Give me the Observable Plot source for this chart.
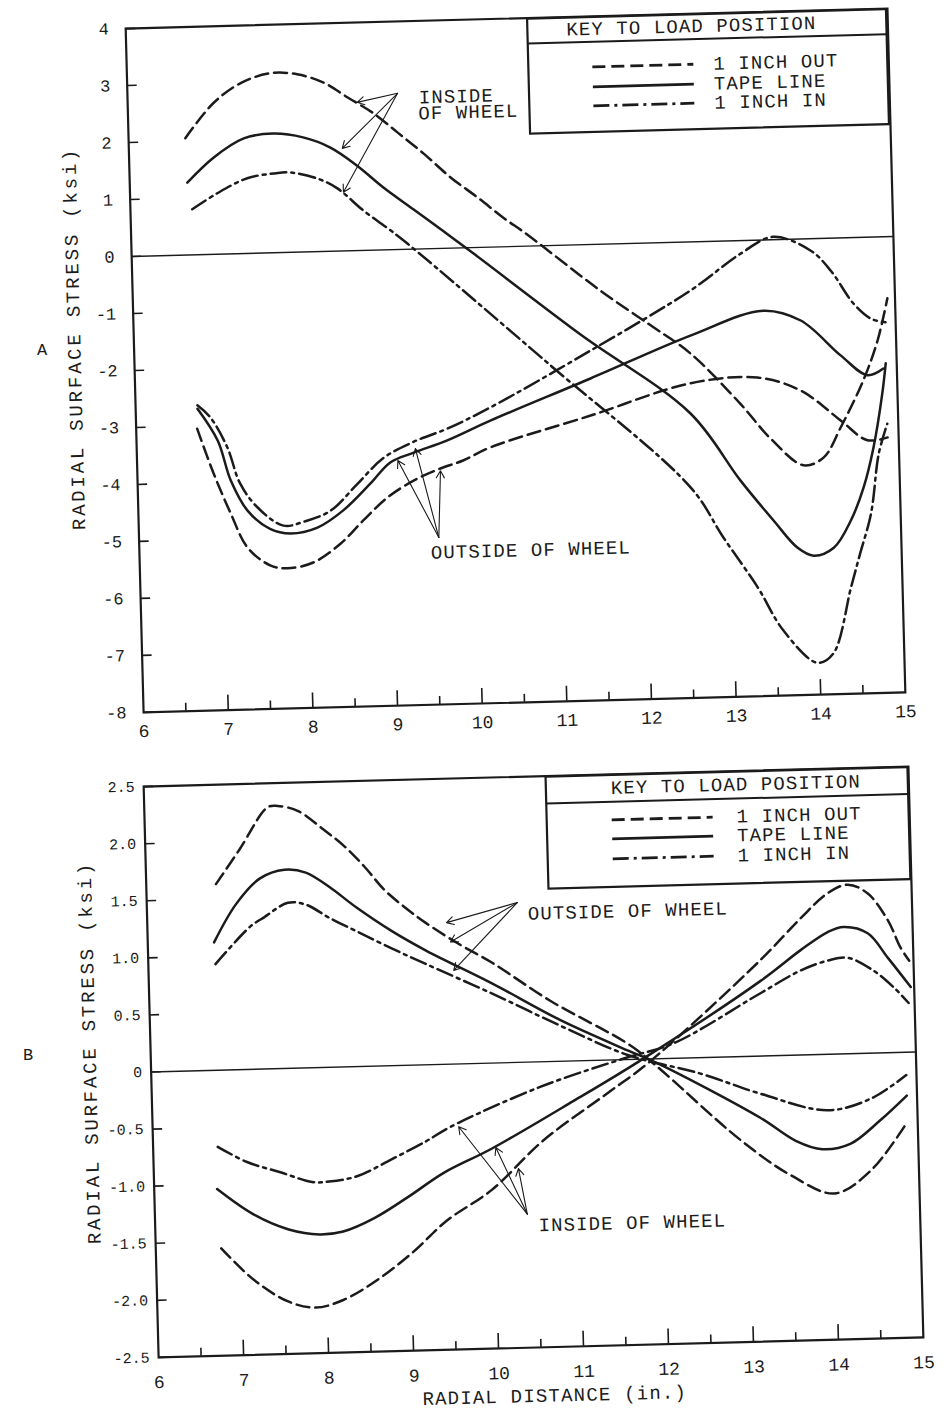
<!DOCTYPE html>
<html>
<head>
<meta charset="utf-8">
<script src="https://cdn.jsdelivr.net/npm/d3@7"></script>
<script src="https://cdn.jsdelivr.net/npm/@observablehq/plot@0.6"></script>
<style>
  html, body { margin: 0; padding: 0; background: #fff; }
  #page { position: relative; width: 943px; height: 1414px; overflow: hidden; background: #fff;
          font-family: "Liberation Mono", "DejaVu Sans Mono", monospace; color: #1b1b1b; }
  .panel { position: absolute; left: 0; width: 943px; }
  .panel svg { display: block; }
  .abs { position: absolute; white-space: nowrap; }
  .ytitle { font-size: 19px; letter-spacing: 2.8px; transform: translate(-50%, -50%) rotate(-90deg); }
  .xtitle { font-size: 19px; letter-spacing: 1.2px; transform: translate(-50%, -50%); }
  .plabel { font-size: 17px; transform: translate(-50%, -50%); }
  .legend { position: absolute; }
</style>
</head>
<body>
<div id="page"></div>
<script>
const FONT = '"Liberation Mono", "DejaVu Sans Mono", monospace';
const INK = "#1b1b1b";

// ---------- axis ticks / labels ----------
const xTicks = [6, 7, 8, 9, 10, 11, 12, 13, 14, 15];
const xMajor = [7, 8, 9, 10, 11, 12, 13, 14];
const xMinor = [6.5, 7.5, 8.5, 9.5, 10.5, 11.5, 12.5, 13.5, 14.5];
const aYTicks = [4, 3, 2, 1, 0, -1, -2, -3, -4, -5, -6, -7, -8];
const aYLabels = ["4", "3", "2", "1", "0", "-1", "-2", "-3", "-4", "-5", "-6", "-7", "-8"];
const bYTicks = [2.5, 2, 1.5, 1, 0.5, 0, -0.5, -1, -1.5, -2, -2.5];
const bYLabels = ["2.5", "2.0", "1.5", "1.0", "0.5", "0", "-0.5", "-1.0", "-1.5", "-2.0", "-2.5"];

const yTitle = "RADIAL SURFACE STRESS (ksi)";
const xTitle = "RADIAL DISTANCE (in.)";
const legendTitle = "KEY TO LOAD POSITION";
const legendKeys = ["out", "tape", "in"];
const legendNames = ["1 INCH OUT", "TAPE LINE", "1 INCH IN"];

// ---------- Panel A data [radial distance (in.), stress (ksi)] ----------
const A_inside_out = [[6.67,2.05],[7.01,2.65],[7.34,2.99],[7.69,3.15],[8.01,3.12],[8.32,2.96],[8.60,2.69],[8.90,2.40],[9.18,2.05],[9.48,1.67],[9.79,1.24],[10.10,0.88],[10.40,0.51],[10.68,0.20],[11.52,-0.81],[12.11,-1.45],[12.57,-1.96],[13.14,-2.86],[13.49,-3.49],[13.87,-3.97],[14.11,-3.84],[14.32,-3.32],[14.60,-2.51],[14.78,-1.82],[14.91,-1.08]];
const A_inside_tape = [[6.68,1.27],[7.00,1.70],[7.36,2.02],[7.71,2.09],[8.06,2.01],[8.38,1.82],[8.69,1.49],[8.99,1.10],[9.34,0.70],[9.69,0.30],[10.05,-0.12],[11.28,-1.58],[12.55,-3.01],[13.12,-4.21],[13.50,-4.93],[13.77,-5.41],[13.96,-5.56],[14.20,-5.43],[14.41,-4.96],[14.57,-4.39],[14.70,-3.69],[14.82,-2.75],[14.87,-2.22]];
const A_inside_in = [[6.73,0.80],[7.03,1.07],[7.39,1.32],[7.70,1.39],[7.90,1.40],[8.22,1.28],[8.45,1.10],[8.75,0.70],[9.03,0.38],[9.26,0.10],[10.91,-2.10],[12.53,-4.31],[12.90,-5.20],[13.29,-6.09],[13.58,-6.86],[13.97,-7.44],[14.16,-7.29],[14.39,-6.14],[14.51,-5.54],[14.65,-4.85],[14.76,-3.80],[14.87,-3.28]];
const A_outside_out = [[6.72,-3.05],[6.90,-3.84],[7.09,-4.55],[7.28,-5.16],[7.54,-5.48],[7.74,-5.54],[8.05,-5.45],[8.38,-5.13],[8.65,-4.74],[8.95,-4.34],[9.26,-4.06],[9.58,-3.86],[9.85,-3.73],[10.18,-3.51],[11.37,-3.00],[12.56,-2.48],[13.35,-2.41],[13.86,-2.66],[14.32,-3.20],[14.63,-3.56],[14.87,-3.52]];
const A_outside_tape = [[6.73,-2.70],[6.96,-3.27],[7.10,-3.97],[7.29,-4.51],[7.55,-4.84],[7.79,-4.93],[8.11,-4.84],[8.42,-4.55],[8.75,-4.09],[8.99,-3.73],[9.27,-3.57],[9.67,-3.37],[10.19,-3.04],[11.38,-2.35],[12.58,-1.64],[13.44,-1.24],[13.88,-1.43],[14.34,-2.06],[14.65,-2.42],[14.84,-2.31]];
const A_outside_in = [[6.73,-2.64],[6.88,-2.86],[7.07,-3.39],[7.21,-4.03],[7.41,-4.46],[7.71,-4.79],[7.95,-4.73],[8.27,-4.55],[8.59,-4.10],[8.91,-3.65],[9.27,-3.38],[9.68,-3.16],[10.19,-2.81],[11.39,-1.86],[12.59,-0.85],[13.19,-0.23],[13.58,0.05],[14.02,-0.21],[14.25,-0.57],[14.51,-1.16],[14.71,-1.43],[14.88,-1.50]];

// annotation arrows [x1, y1, x2, y2] and labels [x, y, text]
const A_arrows = [[9.19,2.74,8.71,2.60],[9.19,2.74,8.52,1.80],[9.19,2.74,8.52,1.03],
                  [9.54,-5.07,9.08,-3.70],[9.54,-5.07,9.29,-3.50],[9.54,-5.07,9.58,-3.90]];
const A_notes = [[9.44,2.66,"INSIDE"],[9.43,2.38,"OF WHEEL"],[9.44,-5.33,"OUTSIDE OF WHEEL"]];

// ---------- Panel B data ----------
const B_outside_out = [[6.82,1.63],[7.11,1.93],[7.45,2.29],[7.57,2.30],[7.81,2.25],[8.09,2.09],[8.33,1.94],[8.57,1.75],[8.80,1.54],[9.04,1.38],[9.28,1.24],[9.68,1.04],[10.04,0.88],[10.72,0.53],[11.61,0.14],[11.91,-0.04],[12.91,-0.73],[13.49,-1.05],[14.00,-1.22],[14.43,-1.03],[14.87,-0.62]];
const B_outside_tape = [[6.78,1.12],[7.05,1.45],[7.34,1.67],[7.63,1.74],[7.88,1.71],[8.15,1.58],[8.47,1.39],[8.87,1.18],[9.27,1.00],[10.03,0.70],[10.83,0.36],[11.61,0.08],[11.96,-0.04],[13.15,-0.54],[13.56,-0.75],[13.87,-0.83],[14.20,-0.79],[14.56,-0.59],[14.88,-0.38]];
const B_outside_in = [[6.79,0.93],[7.21,1.25],[7.38,1.33],[7.66,1.45],[7.87,1.43],[8.14,1.31],[8.47,1.18],[8.86,1.03],[9.27,0.88],[10.03,0.61],[10.83,0.31],[11.61,0.04],[12.46,-0.14],[13.16,-0.33],[13.94,-0.49],[14.45,-0.40],[14.88,-0.20]];
const B_inside_out = [[6.77,-1.56],[7.14,-1.84],[7.54,-2.04],[7.86,-2.10],[8.19,-2.04],[8.60,-1.87],[9.02,-1.64],[9.43,-1.37],[9.97,-1.11],[10.59,-0.69],[11.36,-0.29],[11.84,-0.04],[13.20,0.84],[13.69,1.20],[14.01,1.41],[14.25,1.48],[14.48,1.40],[14.71,1.16],[14.85,0.92],[14.95,0.80]];
const B_inside_tape = [[6.74,-1.04],[7.16,-1.27],[7.57,-1.41],[7.93,-1.46],[8.21,-1.44],[8.58,-1.33],[8.99,-1.15],[9.41,-0.95],[9.98,-0.75],[10.96,-0.35],[11.76,-0.01],[13.20,0.66],[13.68,0.92],[14.00,1.07],[14.19,1.11],[14.47,1.05],[14.70,0.83],[14.96,0.57]];
const B_inside_in = [[6.76,-0.67],[7.10,-0.81],[7.50,-0.91],[7.86,-1.00],[8.06,-1.00],[8.39,-0.96],[8.80,-0.82],[9.21,-0.67],[9.50,-0.55],[10.57,-0.22],[11.61,0.02],[12.15,0.13],[13.19,0.55],[13.67,0.74],[13.99,0.82],[14.23,0.84],[14.53,0.72],[14.76,0.57],[14.93,0.43]];

const B_arrows = [[10.36,1.40,9.52,1.24],[10.36,1.40,9.56,1.07],[10.36,1.40,9.59,0.82],
                  [10.38,-1.33,9.60,-0.55],[10.38,-1.33,10.03,-0.74],[10.38,-1.33,10.29,-0.93]];
const B_notes = [[10.48,1.30,"OUTSIDE OF WHEEL"],[10.51,-1.43,"INSIDE OF WHEEL"]];

// ---------- styles ----------
const DASH = {out: "13,6", tape: null, in: "16,5,3,5"};

function lineMark(data, key) {
  const o = {x: d => d[0], y: d => d[1], curve: "catmull-rom", stroke: INK, strokeWidth: 2.5};
  if (DASH[key]) o.strokeDasharray = DASH[key];
  return Plot.line(data, o);
}

function buildPlot(p) {
  const svg = Plot.plot({
    width: 943, height: p.height,
    marginTop: p.mt, marginRight: p.mr, marginBottom: p.mb, marginLeft: p.ml,
    x: {domain: [6, 15]},
    y: {domain: p.yDomain},
    style: {fontFamily: FONT, fontSize: "18px", color: INK, background: "transparent", overflow: "visible"},
    marks: [
      Plot.ruleY([0], {stroke: INK, strokeWidth: 1.4}),
      ...p.curves.map(c => lineMark(c[0], c[1])),
      Plot.arrow(p.arrows, {x1: d => d[0], y1: d => d[1], x2: d => d[2], y2: d => d[3],
                            stroke: INK, strokeWidth: 1.1, headLength: 11}),
      Plot.text(p.notes, {x: d => d[0], y: d => d[1], text: d => d[2], textAnchor: "start",
                          fontSize: 19, fill: INK}),
      Plot.frame({stroke: INK, strokeWidth: 2.2}),
      Plot.axisY({ticks: p.yTicks, tickSize: 10, dx: 10, tickFormat: () => "", stroke: INK, strokeWidth: 1.6, label: null}),
      Plot.axisY({ticks: p.yTicks, tickSize: 0, tickPadding: p.yPad, fontSize: p.yFont,
                  tickFormat: d => p.yLabels[p.yTicks.indexOf(d)], label: null}),
      Plot.axisX({ticks: xMajor, tickSize: 15, dy: -15, tickFormat: () => "", stroke: INK, strokeWidth: 1.6, label: null}),
      Plot.axisX({ticks: xMinor, tickSize: 8, dy: -8, tickFormat: () => "", stroke: INK, strokeWidth: 1.6, label: null}),
      Plot.axisX({ticks: xTicks, tickSize: 0, tickPadding: p.xPad, tickFormat: d => String(d), label: null})
    ]
  });
  d3.select(svg).selectAll('g[aria-label="text"] text').attr("letter-spacing", "1.1px");
  return svg;
}

function legendSVG(L) {
  const s = d3.create("svg").attr("width", L.w).attr("height", L.h)
    .style("font-family", FONT).style("overflow", "visible");
  s.append("rect").attr("x", 1).attr("y", 1).attr("width", L.w - 2).attr("height", L.h - 2)
    .attr("fill", "#fff").attr("stroke", INK).attr("stroke-width", 2.2);
  s.append("line").attr("x1", 1).attr("x2", L.w - 1).attr("y1", L.sep).attr("y2", L.sep)
    .attr("stroke", INK).attr("stroke-width", 2);
  s.append("text").attr("x", L.titleX).attr("y", L.titleY).attr("text-anchor", "middle")
    .attr("dominant-baseline", "middle").attr("font-size", 19).attr("letter-spacing", "1.1px")
    .attr("fill", INK).text(legendTitle);
  legendKeys.forEach((k, i) => {
    const ln = s.append("line").attr("x1", L.sx0).attr("x2", L.sx1).attr("y1", L.rows[i]).attr("y2", L.rows[i])
      .attr("stroke", INK).attr("stroke-width", 2.8);
    if (DASH[k]) ln.attr("stroke-dasharray", DASH[k]);
    s.append("text").attr("x", L.tx).attr("y", L.rows[i] + 1).attr("dominant-baseline", "middle")
      .attr("font-size", 19).attr("letter-spacing", "1.1px").attr("fill", INK).text(legendNames[i]);
  });
  return s.node();
}

function makePanel(p) {
  const div = document.createElement("div");
  div.className = "panel";
  div.style.top = p.top + "px";
  div.style.height = p.height + "px";
  div.style.transformOrigin = p.origin;
  div.style.transform = "rotate(-1.5deg)";
  div.appendChild(buildPlot(p));
  const lg = document.createElement("div");
  lg.className = "legend";
  lg.style.left = p.legend.left + "px";
  lg.style.top = p.legend.top + "px";
  lg.appendChild(legendSVG(p.legend));
  div.appendChild(lg);
  const yt = document.createElement("div");
  yt.className = "abs ytitle";
  yt.style.left = p.yTitlePos[0] + "px";
  yt.style.top = p.yTitlePos[1] + "px";
  yt.textContent = yTitle;
  div.appendChild(yt);
  if (p.xTitlePos) {
    const xt = document.createElement("div");
    xt.className = "abs xtitle";
    xt.style.left = p.xTitlePos[0] + "px";
    xt.style.top = p.xTitlePos[1] + "px";
    xt.textContent = xTitle;
    div.appendChild(xt);
  }
  return div;
}

const page = document.getElementById("page");

page.appendChild(makePanel({
  top: 0, height: 740, mt: 18, mr: 47, mb: 38, ml: 134,
  origin: "515px 360px",
  yDomain: [-8, 4], yTicks: aYTicks, yLabels: aYLabels, yPad: 17, yFont: 17, xPad: 12,
  curves: [[A_inside_out, "out"], [A_inside_tape, "tape"], [A_inside_in, "in"],
           [A_outside_out, "out"], [A_outside_tape, "tape"], [A_outside_in, "in"]],
  arrows: A_arrows, notes: A_notes,
  legend: {left: 535, top: 18, w: 361, h: 117, sep: 26, titleX: 165, titleY: 14,
           rows: [51, 71, 90], sx0: 65, sx1: 166, tx: 186},
  yTitlePos: [75.6, 326.5]
}));

page.appendChild(makePanel({
  top: 740, height: 674, mt: 36, mr: 27.5, mb: 67, ml: 150.5,
  origin: "533px 321.5px",
  yDomain: [-2.5, 2.5], yTicks: bYTicks, yLabels: bYLabels, yPad: 9, yFont: 15, xPad: 18,
  curves: [[B_outside_out, "out"], [B_outside_tape, "tape"], [B_outside_in, "in"],
           [B_inside_out, "out"], [B_inside_tape, "tape"], [B_inside_in, "in"]],
  arrows: B_arrows, notes: B_notes,
  legend: {left: 552, top: 36, w: 364, h: 114, sep: 28, titleX: 191, titleY: 15,
           rows: [46, 65, 85], sx0: 66, sx1: 167, tx: 191},
  yTitlePos: [91, 300.5],
  xTitlePos: [546, 657]
}));

// panel letters
[["A", 42, 350], ["B", 28, 1055]].forEach(([t, x, y]) => {
  const d = document.createElement("div");
  d.className = "abs plabel";
  d.style.left = x + "px";
  d.style.top = y + "px";
  d.textContent = t;
  page.appendChild(d);
});
</script>
</body>
</html>
